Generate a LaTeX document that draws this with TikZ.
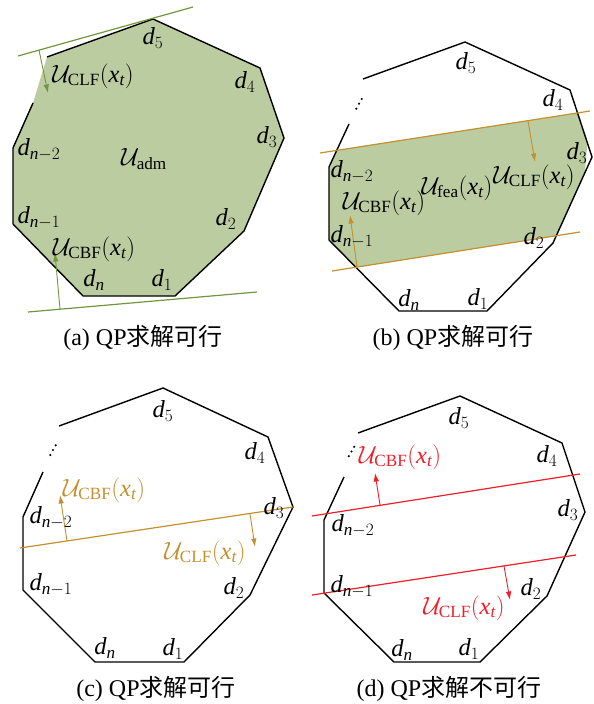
\documentclass[tikz,border=0pt]{standalone}
\usepackage{fontspec}
\setmainfont{Liberation Serif}
\newfontfamily\zh{Noto Sans CJK SC}
\newfontfamily\mathtextfont[NFSSFamily=libsm]{Liberation Serif}
\DeclareSymbolFont{operators}{TU}{libsm}{m}{n}
\DeclareSymbolFont{letters}{TU}{libsm}{m}{it}
\usetikzlibrary{arrows.meta}
\definecolor{fillgreen}{RGB}{187,204,161}
\definecolor{linegreen}{RGB}{112,150,64}
\definecolor{gold}{RGB}{196,143,46}
\definecolor{redline}{RGB}{240,30,40}
\newcommand\Ucbf{$\mathcal{U}_{\mathrm{CBF}}(x_t)$}
\newcommand\Uclf{$\mathcal{U}_{\mathrm{CLF}}(x_t)$}
\newcommand\Ufea{$\mathcal{U}_{\mathrm{fea}}(x_t)$}
\begin{document}
\begin{tikzpicture}[x=1pt,y=-1pt,
  poly/.style={line width=1.4pt,line join=miter},
  lab/.style={inner sep=0pt,font=\fontsize{24.5}{28}\selectfont},
  captext/.style={inner sep=0pt,font=\fontsize{24}{28}\selectfont},
  bound/.style={line width=1.2pt},
  arr/.style={-{Latex[length=8.5pt,width=5.5pt]},line width=0.9pt},
  dot/.style={fill=black,draw=none}]
\useasboundingbox (0,0) rectangle (594,704);

% ---------- panel (a)
\coordinate (pa1) at (153,19);  \coordinate (pa2) at (260,68);
\coordinate (pa3) at (284,138); \coordinate (pa4) at (244,231);
\coordinate (pa5) at (175,296); \coordinate (pa6) at (83,296);
\coordinate (pa7) at (13,224);  \coordinate (pa8) at (13,148);
\coordinate (pa9) at (33,103);  \coordinate (pa10) at (47,57);
\fill[fillgreen] (pa1)--(pa2)--(pa3)--(pa4)--(pa5)--(pa6)--(pa7)--(pa8)--(pa9)--(pa10)--cycle;
\draw[poly] (pa10)--(pa1)--(pa2)--(pa3)--(pa4)--(pa5)--(pa6)--(pa7)--(pa8)--(pa9);
\coordinate (aL1) at (18,56);  \coordinate (aL2) at (193,7);
\coordinate (aL3) at (28,312); \coordinate (aL4) at (257,292);
\draw[bound,linegreen] (aL1)--(aL2);
\draw[bound,linegreen] (aL3)--(aL4);
\coordinate (aA1) at (39,50);  \coordinate (aA2) at (48,93);
\coordinate (aB1) at (60,309); \coordinate (aB2) at (55,253);
\draw[arr,linegreen] (aA1)--(aA2);
\draw[arr,linegreen] (aB1)--(aB2);
\node[lab] (la5) at (153,38) {$d_5$};
\node[lab] (la4) at (245,82) {$d_4$};
\node[lab] (la3) at (267,137) {$d_3$};
\node[lab] (lanm2) at (39,150) {$d_{n-2}$};
\node[lab] (laadm) at (144,159) {$\mathcal{U}_{\mathrm{adm}}$};
\node[lab] (lanm1) at (39,218) {$d_{n-1}$};
\node[lab] (la2) at (226,219) {$d_2$};
\node[lab] (lacbf) at (94,249) {\Ucbf};
\node[lab] (lan) at (94,280) {$d_n$};
\node[lab] (la1) at (162,280) {$d_1$};
\node[lab] (laclf) at (93,76) {\Uclf};
\node[captext] (capa) at (143,338) {(a) QP{\zh 求解可行}};

% ---------- panel (b)
\coordinate (pb1) at (465,42);  \coordinate (pb2) at (570,90);
\coordinate (pb3) at (592,157); \coordinate (pb4) at (553,243);
\coordinate (pb5) at (487,311); \coordinate (pb6) at (399,311);
\coordinate (pb7) at (329,240); \coordinate (pb8) at (329,167);
\coordinate (pb9) at (349,124); \coordinate (pb10) at (363,79);
\coordinate (bL1) at (320,153); \coordinate (bL2) at (590,111);
\coordinate (bL3) at (332,271); \coordinate (bL4) at (580,232);
\begin{scope}
  \clip (pb1)--(pb2)--(pb3)--(pb4)--(pb5)--(pb6)--(pb7)--(pb8)--(pb9)--(pb10)--cycle;
  \fill[fillgreen] (bL1)--(bL2)--(bL4)--(bL3)--cycle;
\end{scope}
\draw[poly] (pb10)--(pb1)--(pb2)--(pb3)--(pb4)--(pb5)--(pb6)--(pb7)--(pb8)--(pb9);
\draw[bound,gold] (bL1)--(bL2);
\draw[bound,gold] (bL3)--(bL4);
\coordinate (bA1) at (528,121); \coordinate (bA2) at (535,162);
\coordinate (bB1) at (357,267); \coordinate (bB2) at (350,215);
\draw[arr,gold] (bA1)--(bA2);
\draw[arr,gold] (bB1)--(bB2);
\fill[dot] (356.3,108.7) circle (1.2) (359,103.7) circle (1.2) (361.7,99) circle (1.2);
\node[lab] (lb5) at (466,63) {$d_5$};
\node[lab] (lb4) at (553,100) {$d_4$};
\node[lab] (lb3) at (577,153) {$d_3$};
\node[lab] (lbnm2) at (352,172) {$d_{n-2}$};
\node[lab] (lbcbf) at (384,203) {\Ucbf};
\node[lab] (lbfea) at (457,188) {\Ufea};
\node[lab] (lbclf) at (534,177) {\Uclf};
\node[lab] (lbnm1) at (352,237) {$d_{n-1}$};
\node[lab] (lb2) at (534,238) {$d_2$};
\node[lab] (lbn) at (409,300) {$d_n$};
\node[lab] (lb1) at (478,299) {$d_1$};
\node[captext] (capb) at (453,338) {(b) QP{\zh 求解可行}};

% ---------- panel (c)
\coordinate (pc1) at (163,388); \coordinate (pc2) at (268,437);
\coordinate (pc3) at (293,507); \coordinate (pc4) at (250,595);
\coordinate (pc5) at (184,662); \coordinate (pc6) at (95,662);
\coordinate (pc7) at (23,590);  \coordinate (pc8) at (23,517);
\coordinate (pc9) at (43,472);  \coordinate (pc10) at (59,426);
\draw[poly] (pc10)--(pc1)--(pc2)--(pc3)--(pc4)--(pc5)--(pc6)--(pc7)--(pc8)--(pc9);
\coordinate (cL1) at (20,548);
\draw[bound,gold] (cL1)--(pc3);
\coordinate (cA1) at (67,541); \coordinate (cA2) at (60,495);
\coordinate (cB1) at (250,514); \coordinate (cB2) at (255,547);
\draw[arr,gold] (cA1)--(cA2);
\draw[arr,gold] (cB1)--(cB2);
\fill[dot] (50.3,455) circle (1.2) (53,450) circle (1.2) (55.7,445.3) circle (1.2);
\node[lab] (lc5) at (163,411) {$d_5$};
\node[lab] (lc4) at (255,453) {$d_4$};
\node[lab,text=gold] (lccbf) at (104,490) {\Ucbf};
\node[lab] (lc3) at (274,508) {$d_3$};
\node[lab] (lcnm2) at (51,518) {$d_{n-2}$};
\node[lab,text=gold] (lcclf) at (205,553) {\Uclf};
\node[lab] (lcnm1) at (51,585) {$d_{n-1}$};
\node[lab] (lc2) at (234,588) {$d_2$};
\node[lab] (lcn) at (105,648) {$d_n$};
\node[lab] (lc1) at (173,649) {$d_1$};
\node[captext] (capc) at (156,689) {(c) QP{\zh 求解可行}};

% ---------- panel (d)
\coordinate (pd1) at (460,396); \coordinate (pd2) at (562,443);
\coordinate (pd3) at (585,512); \coordinate (pd4) at (547,596);
\coordinate (pd5) at (480,662); \coordinate (pd6) at (394,662);
\coordinate (pd7) at (324,593); \coordinate (pd8) at (324,520);
\coordinate (pd9) at (344,477); \coordinate (pd10) at (358,433);
\draw[poly] (pd10)--(pd1)--(pd2)--(pd3)--(pd4)--(pd5)--(pd6)--(pd7)--(pd8)--(pd9);
\coordinate (dL1) at (312,516); \coordinate (dL2) at (580,474);
\coordinate (dL3) at (312,595); \coordinate (dL4) at (576,555);
\draw[bound,redline] (dL1)--(dL2);
\draw[bound,redline] (dL3)--(dL4);
\coordinate (dA1) at (380,505); \coordinate (dA2) at (375,473);
\coordinate (dB1) at (504,566); \coordinate (dB2) at (510,600);
\draw[arr,redline] (dA1)--(dA2);
\draw[arr,redline] (dB1)--(dB2);
\fill[dot] (348.8,456.2) circle (1.2) (351.5,451.5) circle (1.2) (354.2,446.8) circle (1.2);
\node[lab] (ld5) at (459,418) {$d_5$};
\node[lab,text=redline] (ldcbf) at (400,457) {\Ucbf};
\node[lab] (ld4) at (547,456) {$d_4$};
\node[lab] (ld3) at (568,510) {$d_3$};
\node[lab] (ldnm2) at (353,526) {$d_{n-2}$};
\node[lab] (ldnm1) at (352,587) {$d_{n-1}$};
\node[lab] (ld2) at (531,589) {$d_2$};
\node[lab,text=redline] (ldclf) at (464,608) {\Uclf};
\node[lab] (ldn) at (402,650) {$d_n$};
\node[lab] (ld1) at (469,649) {$d_1$};
\node[captext] (capd) at (449,689) {(d) QP{\zh 求解不可行}};
\end{tikzpicture}
\end{document}
